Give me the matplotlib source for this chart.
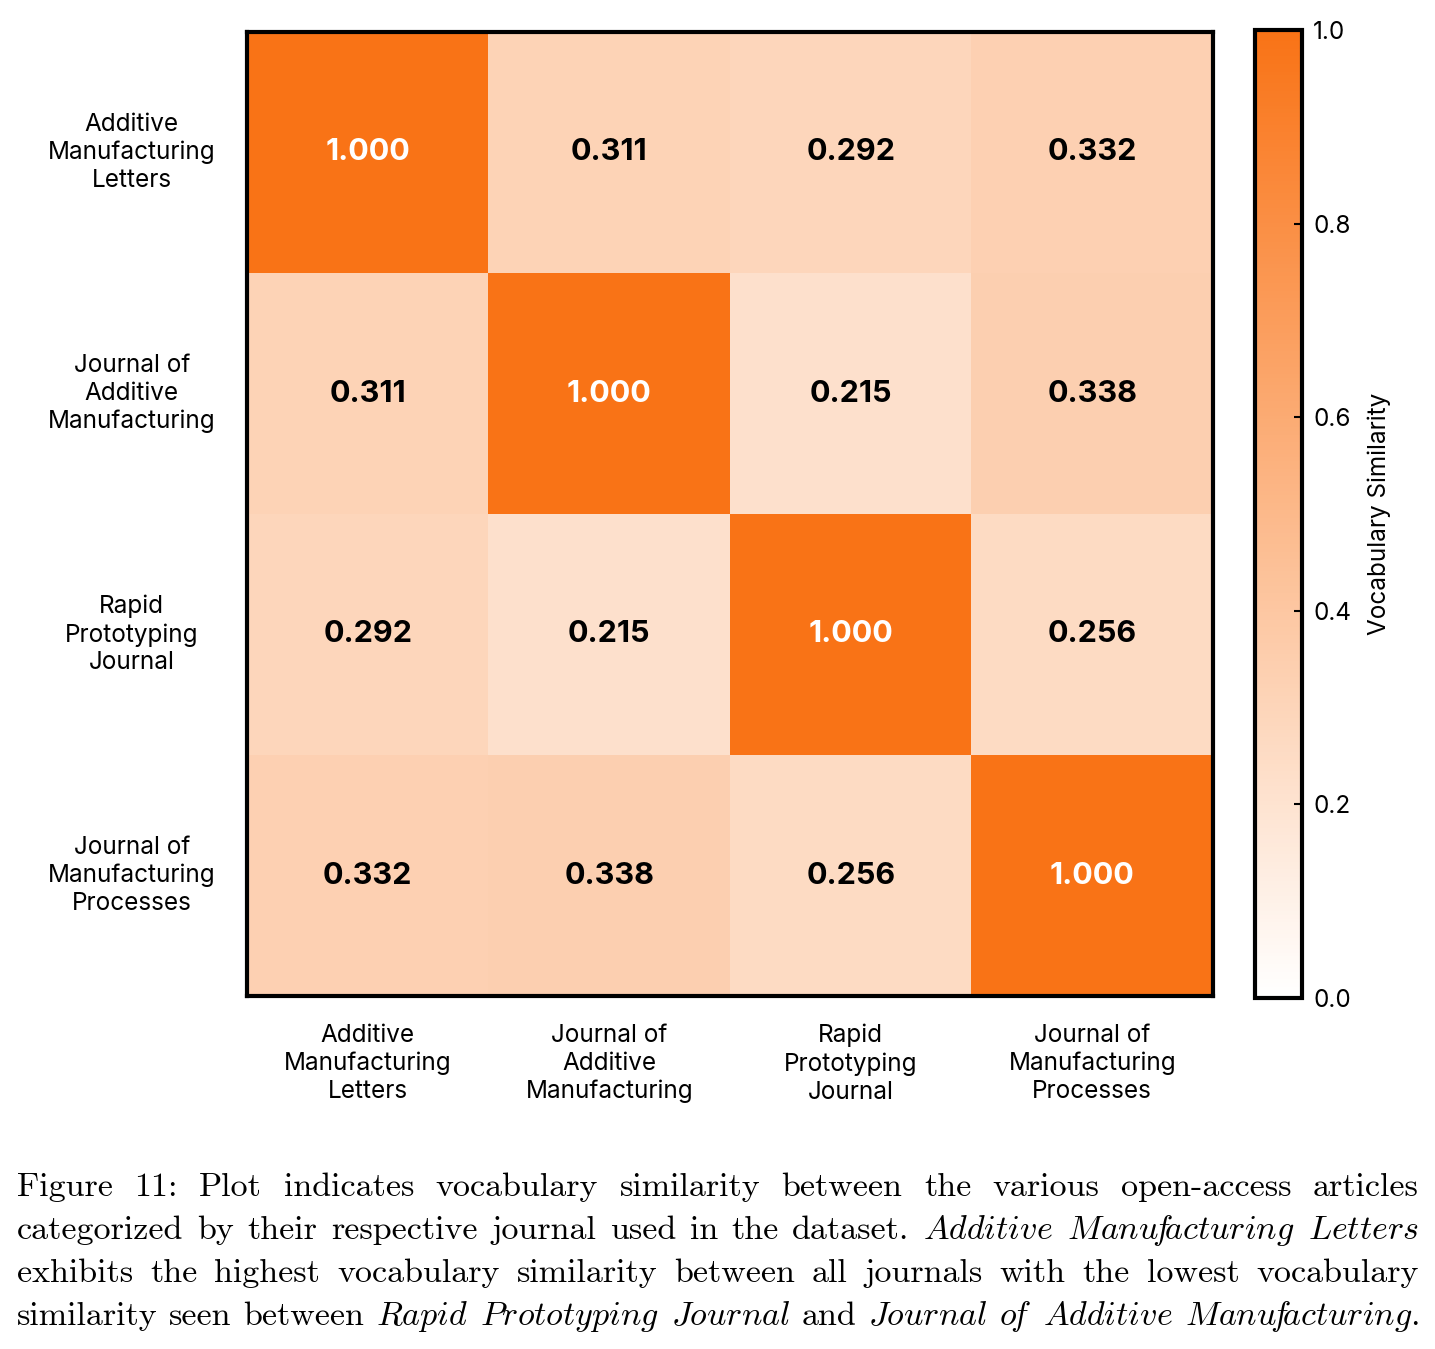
import matplotlib
matplotlib.use("Agg")
import matplotlib.pyplot as plt
import numpy as np
from matplotlib.colors import LinearSegmentedColormap

journals = ["Additive\nManufacturing\nLetters", "Journal of\nAdditive\nManufacturing",
            "Rapid\nPrototyping\nJournal", "Journal of\nManufacturing\nProcesses"]
similarity = np.array([
    [1.000, 0.311, 0.292, 0.332],
    [0.311, 1.000, 0.215, 0.338],
    [0.292, 0.215, 1.000, 0.256],
    [0.332, 0.338, 0.256, 1.000],
])
cbar_ticks = [0.0, 0.2, 0.4, 0.6, 0.8, 1.0]
cbar_label = "Vocabulary Similarity"

caption_lines = [
    [("Figure", 0), ("11:", 0), ("Plot", 0), ("indicates", 0), ("vocabulary", 0), ("similarity", 0),
     ("between", 0), ("the", 0), ("various", 0), ("open-access", 0), ("articles", 0)],
    [("categorized", 0), ("by", 0), ("their", 0), ("respective", 0), ("journal", 0), ("used", 0),
     ("in", 0), ("the", 0), ("dataset.", 0), ("Additive", 1), ("Manufacturing", 1), ("Letters", 1)],
    [("exhibits", 0), ("the", 0), ("highest", 0), ("vocabulary", 0), ("similarity", 0), ("between", 0),
     ("all", 0), ("journals", 0), ("with", 0), ("the", 0), ("lowest", 0), ("vocabulary", 0)],
    [("similarity", 0), ("seen", 0), ("between", 0), ("Rapid", 1), ("Prototyping", 1), ("Journal", 1),
     ("and", 0), ("Journal", 1), ("of", 1), ("Additive", 1), ("Manufacturing.", 1)],
]

plt.rcParams["mathtext.fontset"] = "cm"
SANS = "Inter"
LBL = 17.5

W, H = 1435, 1349
fig = plt.figure(figsize=(W / 100, H / 100), dpi=100)

cmap = LinearSegmentedColormap.from_list("wo", ["#FFFFFF", "#F97316"])

ax = fig.add_axes([247 / W, 1 - 996 / H, (1213 - 247) / W, (996 - 32) / H])
im = ax.imshow(similarity, cmap=cmap, vmin=0, vmax=1, aspect="auto")
n = len(journals)
for i in range(n):
    for j in range(n):
        v = similarity[i, j]
        ax.text(j, i, f"{v:.3f}", ha="center", va="center", fontsize=22, fontweight="bold",
                family=SANS, color="white" if v > 0.6 else "black")
ax.set_xticks(range(n))
ax.set_yticks(range(n))
ax.set_xticklabels(journals, fontsize=LBL, family=SANS, ha="center", linespacing=1.27)
ax.set_yticklabels(journals, fontsize=LBL, family=SANS, ha="center", va="center", linespacing=1.27)
ax.tick_params(axis="both", length=0)
ax.tick_params(axis="x", pad=20)
ax.tick_params(axis="y", pad=83)
for s in ax.spines.values():
    s.set_linewidth(3)
    s.set_color("black")

cax = fig.add_axes([1255 / W, 1 - 998 / H, 47 / W, (998 - 30) / H])
cb = fig.colorbar(im, cax=cax, ticks=cbar_ticks)
cb.outline.set_linewidth(3)
cb.ax.tick_params(direction="in", length=6, width=1.5, labelsize=LBL, pad=8)
for t in cb.ax.get_yticklabels():
    t.set_family(SANS)
cb.set_label(cbar_label, fontsize=LBL, family=SANS, labelpad=12)

# caption, justified word by word
fig.canvas.draw()
renderer = fig.canvas.get_renderer()
left_px, right_px = 17, 1419
base_y = [1196, 1239, 1282, 1325]
fs = 24.5


def italic_tex(w):
    tail = ""
    if w.endswith("."):
        w, tail = w[:-1], "."
    out = ""
    parts = w.split("f")
    for k, p in enumerate(parts):
        if k > 0:
            out += r"\!\mathit{f}\!"
        if p:
            out += r"\mathit{" + p + "}"
    return "$" + out + tail + "$"


for line, yb in zip(caption_lines, base_y):
    texts = []
    for w, it in line:
        if it:
            t = fig.text(0, 1 - yb / H, italic_tex(w), fontsize=fs, va="baseline", ha="left")
        else:
            t = fig.text(0, 1 - yb / H, w, fontsize=fs, va="baseline", ha="left", family="cmr10")
        texts.append(t)
    widths = [t.get_window_extent(renderer).width for t in texts]
    gap = (right_px - left_px - sum(widths)) / (len(texts) - 1)
    x = left_px
    for t, wd in zip(texts, widths):
        t.set_x(x / W)
        x += wd + gap

fig.savefig("out.png", dpi=100)
